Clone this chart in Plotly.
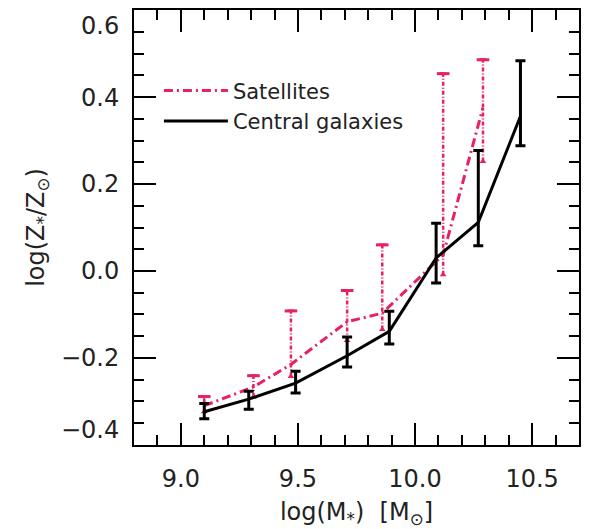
import plotly.graph_objects as go

# Central galaxies
cen_x = [9.10, 9.29, 9.49, 9.71, 9.89, 10.09, 10.27, 10.45]
cen_y = [-0.324, -0.295, -0.258, -0.195, -0.139, 0.030, 0.112, 0.356]
cen_hi = [-0.305, -0.277, -0.231, -0.152, -0.093, 0.110, 0.277, 0.484]
cen_lo = [-0.340, -0.318, -0.281, -0.221, -0.168, -0.028, 0.058, 0.288]

# Satellites
sat_x = [9.10, 9.31, 9.47, 9.71, 9.86, 10.12, 10.29]
sat_y = [-0.310, -0.267, -0.215, -0.117, -0.097, 0.037, 0.376]
sat_hi = [-0.289, -0.241, -0.092, -0.045, 0.060, 0.454, 0.486]
sat_lo = [-0.324, -0.290, -0.243, -0.160, -0.135, -0.009, 0.252]

y_ticks = [-0.4, -0.2, 0.0, 0.2, 0.4, 0.6]
y_ticktext = ["−0.4<br> ", "−0.2", "0.0", "0.2", "0.4", " <br>0.6"]
x_ticks = [9.0, 9.5, 10.0, 10.5]
x_ticktext = ["9.0", "9.5", "10.0", "10.5"]

PINK = "#E8215F"
FONT = "DejaVu Sans"

fig = go.Figure()

# satellites error bars as dash-dot segments
seg_x, seg_y = [], []
for x, lo, hi in zip(sat_x, sat_lo, sat_hi):
    seg_x += [x, x, None]
    seg_y += [lo, hi, None]
fig.add_trace(go.Scatter(x=seg_x, y=seg_y, mode="lines",
                         line=dict(color=PINK, width=2.5, dash="4px,2px,1px,2px"),
                         showlegend=False, hoverinfo="skip"))
fig.add_trace(go.Scatter(x=sat_x, y=sat_hi, mode="markers",
                         marker=dict(symbol="line-ew", size=9, line=dict(color=PINK, width=3)),
                         showlegend=False, hoverinfo="skip"))
fig.add_trace(go.Scatter(x=sat_x, y=sat_hi, mode="markers",
                         marker=dict(symbol="triangle-down", size=6, color=PINK),
                         showlegend=False, hoverinfo="skip"))
fig.add_trace(go.Scatter(x=sat_x, y=sat_lo, mode="markers",
                         marker=dict(symbol="triangle-up", size=6, color=PINK),
                         showlegend=False, hoverinfo="skip"))

# satellites line
fig.add_trace(go.Scatter(x=sat_x, y=sat_y, mode="lines", name="Satellites",
                         line=dict(color=PINK, width=3, dash="9px,4px,2px,4px")))

# central galaxies line with error bars
fig.add_trace(go.Scatter(
    x=cen_x, y=cen_y, mode="lines", name="Central galaxies",
    line=dict(color="black", width=3),
    error_y=dict(type="data", symmetric=False,
                 array=[h - y for h, y in zip(cen_hi, cen_y)],
                 arrayminus=[y - l for l, y in zip(cen_lo, cen_y)],
                 color="black", thickness=3, width=5)))

axis_common = dict(showline=True, linecolor="black", linewidth=2, mirror="allticks",
                   ticks="inside", ticklen=22, tickwidth=2, tickcolor="black",
                   showgrid=False, zeroline=False, automargin=False,
                   ticklabeloverflow="allow",
                   tickfont=dict(family=FONT, size=24, color="#222"))

fig.update_xaxes(range=[8.8, 10.7], tickvals=x_ticks, ticktext=x_ticktext,
                 minor=dict(dtick=0.1, ticks="inside", ticklen=10, tickwidth=2, tickcolor="black", showgrid=False),
                 title=dict(text="log(M<sub>*</sub>)  [M<sub>⊙</sub>]", font=dict(family=FONT, size=24, color="#222"), standoff=14),
                 ticklabelstandoff=11,
                 **axis_common)
fig.update_yaxes(range=[-0.4005, 0.6005], tickvals=y_ticks, ticktext=y_ticktext,
                 minor=dict(dtick=0.05, ticks="inside", ticklen=10, tickwidth=2, tickcolor="black", showgrid=False),
                 title=dict(text="log(Z<sub>*</sub>/Z<sub>⊙</sub>)", font=dict(family=FONT, size=24, color="#222"), standoff=10),
                 ticklabelstandoff=8,
                 **axis_common)

fig.update_layout(
    width=587, height=521,
    margin=dict(l=126, r=16, t=2, b=84),
    paper_bgcolor="white", plot_bgcolor="white",
    legend=dict(x=0.056, y=0.861, xanchor="left", yanchor="top",
                bgcolor="rgba(0,0,0,0)", font=dict(family=FONT, size=21, color="#222"),
                itemwidth=64),
)

fig.write_html("out.html")
